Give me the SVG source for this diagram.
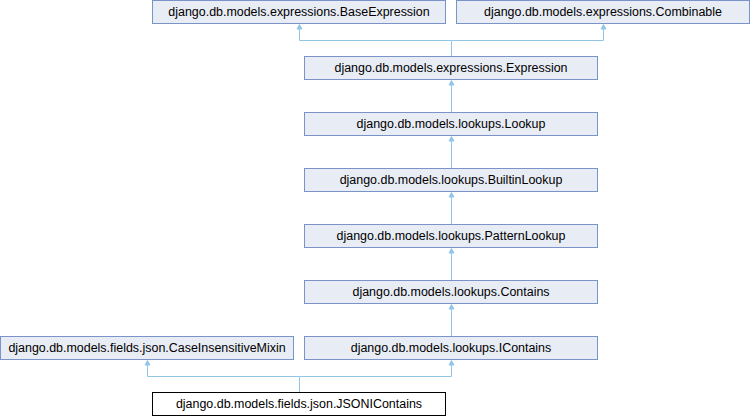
<svg xmlns="http://www.w3.org/2000/svg" width="750" height="416" viewBox="0 0 750 416">
  <defs>
    <style>
      .node rect { fill: #e8ecf5; stroke: #7b93c9; stroke-width: 1; }
      .node.focus rect { fill: #ffffff; stroke: #000000; }
      .node text { font-family: "Liberation Sans", Arial, sans-serif; font-size: 12.45px; fill: #000000; text-anchor: middle; }
      .edges path { fill: none; stroke: #93c6e5; stroke-width: 1; }
      .edges polygon { fill: #93c6e5; stroke: #93c6e5; stroke-width: 1; }
    </style>
  </defs>
  <rect width="750" height="416" fill="#ffffff"/>

  <!-- inheritance connectors -->
  <g class="edges">
    <path d="M451.5,56 V40.5 H299.5 V29"/>
    <polygon points="299.5,24.5 297,29 302,29"/>
    <path d="M451.5,40.5 H603.5 V29"/>
    <polygon points="603.5,24.5 601,29 606,29"/>
    <path d="M451.5,112 V85"/>
    <polygon points="451.5,80.5 449,85 454,85"/>
    <path d="M451.5,168 V141"/>
    <polygon points="451.5,136.5 449,141 454,141"/>
    <path d="M451.5,224 V197"/>
    <polygon points="451.5,192.5 449,197 454,197"/>
    <path d="M451.5,280 V253"/>
    <polygon points="451.5,248.5 449,253 454,253"/>
    <path d="M451.5,336 V309"/>
    <polygon points="451.5,304.5 449,309 454,309"/>
    <path d="M299.5,392 V376.5 H147.5 V365"/>
    <polygon points="147.5,360.5 145,365 150,365"/>
    <path d="M299.5,376.5 H451.5 V365"/>
    <polygon points="451.5,360.5 449,365 454,365"/>
  </g>

  <g id="node-base-expression" class="node">
    <rect x="152.5" y="0.5" width="293" height="23"/>
    <text x="299" y="16">django.db.models.expressions.BaseExpression</text>
  </g>
  <g id="node-combinable" class="node">
    <rect x="456.5" y="0.5" width="293" height="23"/>
    <text x="603" y="16">django.db.models.expressions.Combinable</text>
  </g>
  <g id="node-expression" class="node">
    <rect x="304.5" y="56.5" width="293" height="23"/>
    <text x="451" y="72">django.db.models.expressions.Expression</text>
  </g>
  <g id="node-lookup" class="node">
    <rect x="304.5" y="112.5" width="293" height="23"/>
    <text x="451" y="128">django.db.models.lookups.Lookup</text>
  </g>
  <g id="node-builtin-lookup" class="node">
    <rect x="304.5" y="168.5" width="293" height="23"/>
    <text x="451" y="184">django.db.models.lookups.BuiltinLookup</text>
  </g>
  <g id="node-pattern-lookup" class="node">
    <rect x="304.5" y="224.5" width="293" height="23"/>
    <text x="451" y="240">django.db.models.lookups.PatternLookup</text>
  </g>
  <g id="node-contains" class="node">
    <rect x="304.5" y="280.5" width="293" height="23"/>
    <text x="451" y="296">django.db.models.lookups.Contains</text>
  </g>
  <g id="node-icontains" class="node">
    <rect x="304.5" y="336.5" width="293" height="23"/>
    <text x="451" y="352">django.db.models.lookups.IContains</text>
  </g>
  <g id="node-case-insensitive-mixin" class="node">
    <rect x="0.5" y="336.5" width="293" height="23"/>
    <text x="147" y="352">django.db.models.fields.json.CaseInsensitiveMixin</text>
  </g>
  <g id="node-json-icontains" class="node focus">
    <rect x="152.5" y="392.5" width="293" height="23"/>
    <text x="299" y="408">django.db.models.fields.json.JSONIContains</text>
  </g>
</svg>
